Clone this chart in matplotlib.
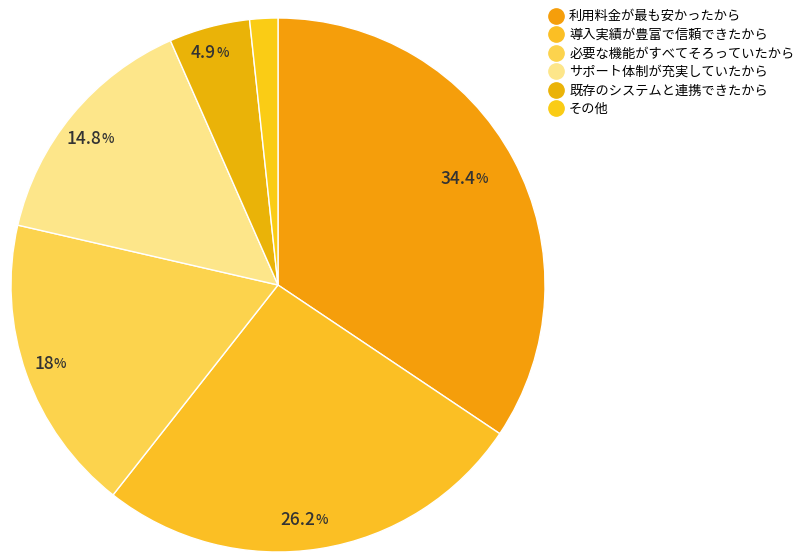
import numpy as np
import matplotlib.pyplot as plt
from matplotlib.lines import Line2D

plt.rcParams['font.family'] = ['Noto Sans CJK JP', 'DejaVu Sans']

labels = ['利用料金が最も安かったから', '導入実績が豊富で信頼できたから', '必要な機能がすべてそろっていたから',
          'サポート体制が充実していたから', '既存のシステムと連携できたから', 'その他']
values = [34.4, 26.2, 18, 14.8, 4.9, 1.7]
pct_labels = ['34.4', '26.2', '18', '14.8', '4.9', '']
colors = ['#F59E0B', '#FBBF24', '#FCD34D', '#FDE68A', '#EAB308', '#FACC15']

fig = plt.figure(figsize=(8, 5.58), dpi=100)
ax = fig.add_axes([11 / 800, 6 / 558, 534 / 800, 534 / 558])
wedges, _ = ax.pie(values, colors=colors, startangle=90, counterclock=False,
                   wedgeprops=dict(edgecolor='white', linewidth=1))
ax.set_xlim(-1, 1)
ax.set_ylim(-1, 1)
ax.set_aspect('equal')

dists = [0.84, 0.89, 0.89, 0.86, 0.9]
for w, lab, d in zip(wedges, pct_labels, dists):
    ang = np.deg2rad((w.theta1 + w.theta2) / 2)
    x, y = d * np.cos(ang), d * np.sin(ang)
    ax.text(x, y, lab, ha='right', va='center', fontsize=12.5, fontweight='medium', color='#333333')
    ax.text(x, y, '%', ha='left', va='center', fontsize=9.5, fontweight='medium', color='#333333')

handles = [Line2D([], [], marker='o', linestyle='', markersize=11, markerfacecolor=c,
                  markeredgecolor=c) for c in colors]
lax = fig.add_axes([0.68, 0.7, 0.3, 0.3])
lax.axis('off')
lax.legend(handles, labels, loc='upper left', frameon=False, fontsize=9.5,
           handlelength=1, labelspacing=0.42, handletextpad=0.5,
           borderaxespad=0.0, bbox_to_anchor=(0.0, 0.97))

fig.savefig('out.png', dpi=100)
